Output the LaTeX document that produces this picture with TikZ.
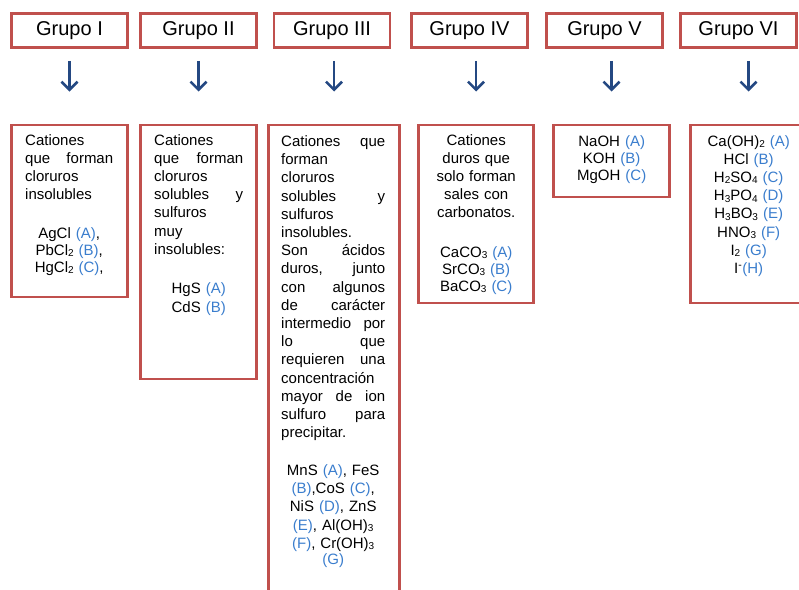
\documentclass[tikz,border=0pt]{standalone}
\usepackage{fontspec}
\setmainfont{Liberation Sans}
\usetikzlibrary{arrows.meta,positioning}
\definecolor{rojocaja}{RGB}{192,80,77}
\definecolor{azulflecha}{RGB}{36,72,130}
\definecolor{azulletra}{RGB}{58,125,205}
\newcommand{\just}[1]{\makebox[\linewidth][s]{\spaceskip=.28em plus 1fil\relax #1}}
\newcommand{\cent}[1]{\makebox[\linewidth]{#1}}
\newcommand{\letra}[1]{\textcolor{azulletra}{(#1)}}
\newcommand{\subi}[1]{\raisebox{-0.1em}{\fontsize{10}{10}\selectfont #1}}

\begin{document}
\begin{tikzpicture}[x=1pt,y=-1pt,
  grupo/.style={draw=rojocaja,line width=2.8pt,minimum width=116pt,minimum height=34pt,inner sep=0pt,font=\fontsize{20}{24}\selectfont},
  caja/.style={draw=rojocaja,line width=2.8pt,anchor=north,inner sep=0pt},
  texto/.style={anchor=base west,inner sep=0pt,font=\fontsize{15}{18.2}\selectfont},
  flecha/.style={draw=azulflecha,line width=2.6pt,-{Straight Barb[length=8pt,width=16pt]}}]
\useasboundingbox (0,0) rectangle (799,589);
\clip (0,0) rectangle (799,589);
% cabeceras
\node[grupo] (hI) at (69.5,30.5) {Grupo I};
\node[grupo] (hII) at (198.5,30.5) {Grupo II};
\node[grupo] (hIII) at (332,30.5) {Grupo III};
\node[grupo] (hIV) at (469.5,30.5) {Grupo IV};
\node[grupo] (hV) at (604.5,30.5) {Grupo V};
\node[grupo] (hVI) at (738.5,30.5) {Grupo VI};
% cajas
\node[caja,minimum width=116pt,minimum height=172pt] (bI) at (69.5,123.5) {};
\node[caja,minimum width=116pt,minimum height=254pt] (bII) at (198.5,123.5) {};
\node[caja,minimum width=131pt,minimum height=520pt] (bIII) at (334,123.5) {};
\node[caja,minimum width=115pt,minimum height=178pt] (bIV) at (476,123.5) {};
\node[caja,minimum width=116pt,minimum height=72pt] (bV) at (611.5,123.5) {};
\node[caja,minimum width=116pt,minimum height=178pt] (bVI) at (748.5,123.5) {};
% flechas
\foreach \g in {I,II,III,IV,V,VI}
  \draw[flecha,shorten <=12pt,shorten >=32pt] (h\g.south -| b\g.north) -- (b\g.north);
% textos
\node[texto,text width=88pt,align=left] (tI) at (25,145) {%
Cationes\\ \just{que forman}\\ cloruros\\ insolubles\\[20.5pt]
\cent{AgCl \letra{A},}\\[-1.2pt] \cent{PbCl\subi{2} \letra{B},}\\[-1.2pt] \cent{HgCl\subi{2} \letra{C},}};
\node[texto,text width=89pt,align=left] (tII) at (154,145) {%
Cationes\\ \just{que forman}\\ cloruros\\ \just{solubles y}\\ sulfuros\\ muy\\ insolubles:\\[21.5pt]
\cent{HgS \letra{A}}\\ \cent{CdS \letra{B}}};
\node[texto,text width=104pt,align=left] (tIII) at (281,146.5) {%
\just{Cationes que}\\ forman\\ cloruros\\ \just{solubles y}\\ sulfuros\\ insolubles.\\
\just{Son ácidos}\\ \just{duros, junto}\\ \just{con algunos}\\ \just{de carácter}\\
\just{intermedio por}\\ \just{lo que}\\ \just{requieren una}\\ concentración\\
\just{mayor de ion}\\ \just{sulfuro para}\\ precipitar.\\[19.5pt]
\cent{MnS \letra{A}, FeS}\\ \cent{\letra{B},CoS \letra{C},}\\ \cent{NiS \letra{D}, ZnS}\\
\cent{\letra{E}, Al(OH)\subi{3}}\\ \cent{\letra{F}, Cr(OH)\subi{3}}\\[-1.5pt] \cent{\letra{G}}};
\node[texto,text width=100pt,align=center] (tIV) at (426,145) {%
Cationes\\ duros que\\ solo forman\\ sales con\\ carbonatos.\\[21pt]
CaCO\subi{3} \letra{A}\\[-1.2pt] SrCO\subi{3} \letra{B}\\[-1.2pt] BaCO\subi{3} \letra{C}};
\node[texto,text width=100pt,align=center] (tV) at (561.5,146) {%
NaOH \letra{A}\\[-1.2pt] KOH \letra{B}\\[-1.2pt] MgOH \letra{C}};
\node[texto,text width=100pt,align=center] (tVI) at (698.5,146) {%
Ca(OH)\subi{2} \letra{A}\\ HCl \letra{B}\\ H\subi{2}SO\subi{4} \letra{C}\\
H\subi{3}PO\subi{4} \letra{D}\\ H\subi{3}BO\subi{3} \letra{E}\\
HNO\subi{3} \letra{F}\\ I\subi{2} \letra{G}\\ I\textsuperscript{-}\letra{H}};
\end{tikzpicture}
\end{document}
